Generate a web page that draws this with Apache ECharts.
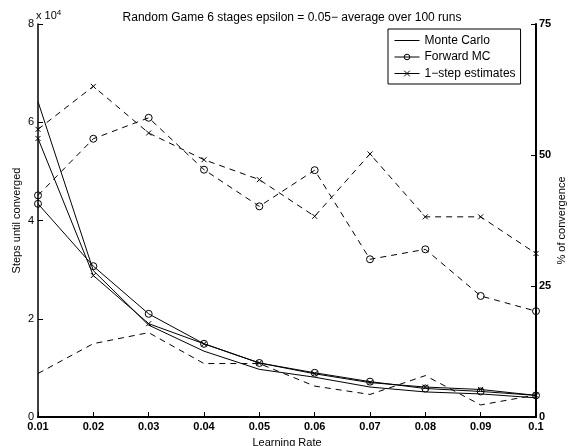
<!DOCTYPE html>
<html>
<head>
<meta charset="utf-8">
<script src="https://cdn.jsdelivr.net/npm/echarts@6/dist/echarts.min.js"></script>
<style>html,body{margin:0;padding:0;background:#fff}#c{width:569px;height:446px}</style>
</head>
<body>
<div id="c"></div>
<script>
var learningRates = ['0.01','0.02','0.03','0.04','0.05','0.06','0.07','0.08','0.09','0.1'];
// Steps until converged (solid lines, left axis)
var stepsMonteCarlo = [64200, 29800, 18700, 13400, 9700, 8100, 6100, 5100, 4700, 3900];
var stepsForwardMC  = [43400, 30700, 21000, 14900, 11000, 9000, 7200, 5800, 5200, 4400];
var stepsOneStep    = [56700, 28800, 19000, 14900, 11000, 8800, 7000, 6100, 5600, 4400];
// % of convergence (dashed lines, right axis)
var convMonteCarlo = [8.3, 14.0, 16.1, 10.2, 10.2, 5.9, 4.3, 7.9, 2.3, 4.2];
var convForwardMC  = [42.3, 53.1, 57.1, 47.2, 40.2, 47.1, 30.1, 32.0, 23.1, 20.2];
var convOneStep    = [54.9, 63.1, 54.2, 49.1, 45.3, 38.3, 50.2, 38.2, 38.2, 31.2];
var leftTicks = [0, 20000, 40000, 60000, 80000];
var rightTicks = [0, 25, 50, 75];

var FONT = "'Liberation Sans', Arial, Helvetica, sans-serif";
var XMARK = 'path://M0,0L10,10M10,0L0,10';

var chart = echarts.init(document.getElementById('c'), null, {renderer: 'canvas'});

function lineSeries(name, data, axis, dashed, symbol, size) {
  return {
    name: name,
    type: 'line',
    yAxisIndex: axis,
    data: data,
    symbol: symbol,
    symbolSize: size,
    showSymbol: symbol !== 'none',
    lineStyle: {color: '#000', width: 1, type: dashed ? [6, 5] : 'solid'},
    itemStyle: {color: symbol === 'circle' ? 'rgba(0,0,0,0)' : '#000', borderColor: '#000', borderWidth: 1},
    emphasis: {disabled: true},
    z: dashed ? 2 : 3
  };
}

chart.setOption({
  animation: false,
  backgroundColor: '#fff',
  textStyle: {fontFamily: FONT, color: '#000'},
  title: {
    text: 'Random Game 6 stages epsilon = 0.05\u2212 average over 100 runs',
    left: 287, top: 7, textAlign: 'center',
    textStyle: {fontFamily: FONT, fontSize: 12, fontWeight: 'normal', color: '#000'}
  },
  grid: {left: 38, right: 33, top: 24, bottom: 29, containLabel: false, outerBoundsMode: 'none'},
  legend: {
    data: [
      {name: 'Monte Carlo', itemStyle: {opacity: 0}},
      {name: 'Forward MC'},
      {name: '1\u2212step estimates'}
    ],
    orient: 'vertical',
    left: 388, top: 29,
    padding: [4, 5, 3, 6],
    itemGap: 1.5,
    itemWidth: 25,
    itemHeight: 7,
    borderColor: '#000',
    borderWidth: 1,
    backgroundColor: '#fff',
    selectedMode: false,
    lineStyle: {width: 1, color: '#000', type: 'solid'},
    itemStyle: {borderWidth: 1, borderColor: '#000'},
    textStyle: {fontFamily: FONT, fontSize: 12, lineHeight: 15, color: '#000'}
  },
  xAxis: {
    type: 'category',
    data: learningRates,
    boundaryGap: false,
    name: 'Learning Rate',
    nameLocation: 'middle',
    nameGap: 20,
    nameMoveOverlap: false,
    nameTextStyle: {fontFamily: FONT, fontSize: 11, color: '#000'},
    axisLine: {lineStyle: {color: '#000', width: 2}},
    axisTick: {inside: true, length: 5, alignWithLabel: true, lineStyle: {color: '#000'}},
    axisLabel: {fontFamily: FONT, fontSize: 11, fontWeight: 'bold', color: '#000', margin: 4},
    splitLine: {show: false}
  },
  yAxis: [{
    type: 'value',
    position: 'left',
    min: 0, max: 80000, interval: 20000,
    name: 'Steps until converged',
    nameLocation: 'middle',
    nameRotate: 90,
    nameGap: 16,
    nameMoveOverlap: false,
    nameTextStyle: {fontFamily: FONT, fontSize: 11, color: '#000'},
    axisLine: {show: true, lineStyle: {color: '#000', width: 1.5}},
    axisTick: {show: true, inside: true, length: 5, lineStyle: {color: '#000'}},
    axisLabel: {fontFamily: FONT, fontSize: 11, color: '#000', margin: 4,
      formatter: function (v) { return leftTicks.indexOf(v) >= 0 ? String(v / 10000) : ''; }},
    splitLine: {show: false}
  }, {
    type: 'value',
    position: 'right',
    min: 0, max: 75, interval: 25,
    name: '% of convergence',
    nameLocation: 'middle',
    nameRotate: 90,
    nameGap: 20,
    nameMoveOverlap: false,
    nameTextStyle: {fontFamily: FONT, fontSize: 11, color: '#000'},
    axisLine: {show: true, lineStyle: {color: '#000', width: 2}},
    axisTick: {show: true, inside: true, length: 5, lineStyle: {color: '#000'}},
    axisLabel: {fontFamily: FONT, fontSize: 11, fontWeight: 'bold', color: '#000', margin: 3,
      formatter: function (v) { return rightTicks.indexOf(v) >= 0 ? String(v) : ''; }},
    splitLine: {show: false}
  }],
  graphic: [{
    type: 'text',
    left: 36, top: 9,
    style: {
      text: 'x 10{s|4}',
      font: '11px ' + FONT,
      fill: '#000',
      rich: {s: {fontSize: 8, verticalAlign: 'top', padding: [0, 0, 5, 0], fontFamily: FONT}}
    }
  }],
  series: [
    lineSeries('Monte Carlo', stepsMonteCarlo, 0, false, 'none', 0),
    lineSeries('Forward MC', stepsForwardMC, 0, false, 'circle', 7),
    lineSeries('1\u2212step estimates', stepsOneStep, 0, false, XMARK, 5),
    lineSeries('Monte Carlo %', convMonteCarlo, 1, true, 'none', 0),
    lineSeries('Forward MC %', convForwardMC, 1, true, 'circle', 7),
    lineSeries('1\u2212step estimates %', convOneStep, 1, true, XMARK, 5)
  ]
});
</script>
</body>
</html>
